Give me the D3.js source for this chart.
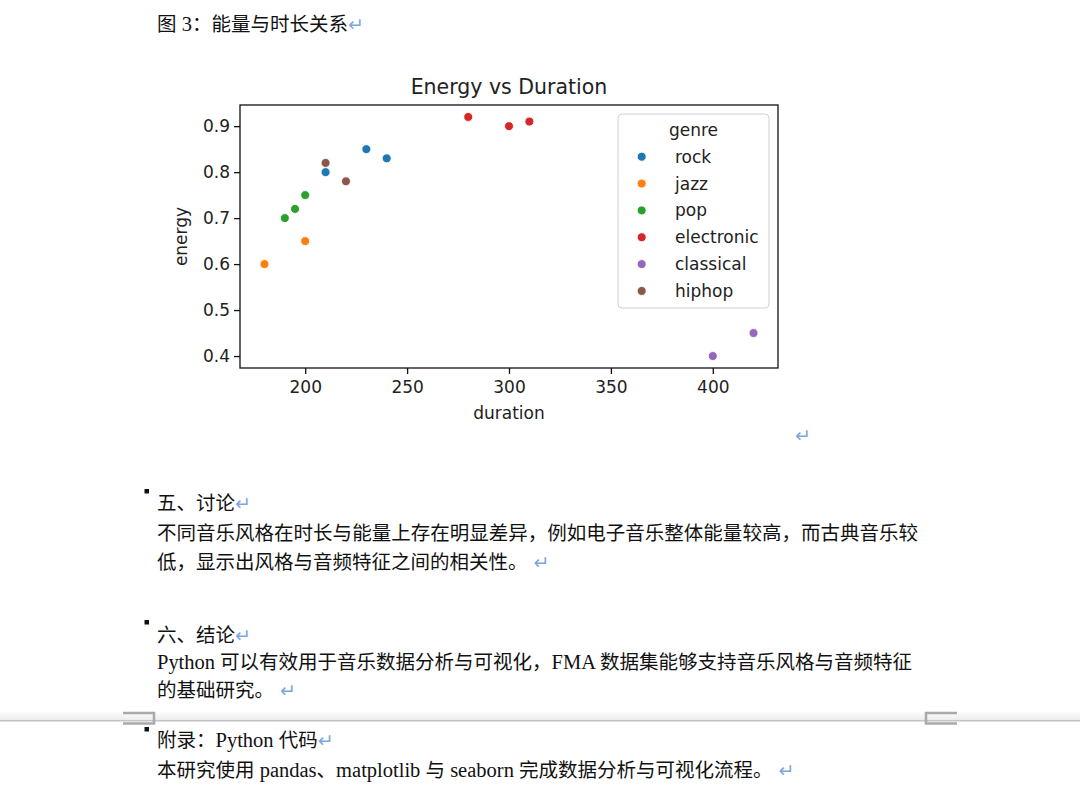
<!DOCTYPE html>
<html>
<head>
<meta charset="utf-8">
<script src="https://cdn.jsdelivr.net/npm/d3@7"></script>
<style>
  html, body { margin: 0; padding: 0; background: #fff; }
  svg { display: block; }
</style>
</head>
<body>
<svg id="page" width="1080" height="797"></svg>
<script>
// ---------- chart data ----------
const genres = ["rock", "jazz", "pop", "electronic", "classical", "hiphop"];
const pointGenre = ["rock", "rock", "rock", "jazz", "jazz", "pop", "pop", "pop",
                    "electronic", "electronic", "electronic", "classical", "classical", "hiphop", "hiphop"];
const duration   = [210, 230, 240, 180, 200, 190, 195, 200, 280, 300, 310, 400, 420, 210, 220];
const energy     = [0.80, 0.85, 0.83, 0.60, 0.65, 0.70, 0.72, 0.75, 0.92, 0.90, 0.91, 0.40, 0.45, 0.82, 0.78];
const xTicks = [200, 250, 300, 350, 400];
const yTicks = [0.4, 0.5, 0.6, 0.7, 0.8, 0.9];
const chartTitle = "Energy vs Duration";
const xLabel = "duration";
const yLabel = "energy";
const legendTitle = "genre";

// ---------- document text ----------
const docText = [
  "图 3：能量与时长关系",
  "五、讨论",
  "不同音乐风格在时长与能量上存在明显差异，例如电子音乐整体能量较高，而古典音乐较",
  "低，显示出风格与音频特征之间的相关性。",
  "六、结论",
  "Python 可以有效用于音乐数据分析与可视化，FMA 数据集能够支持音乐风格与音频特征",
  "的基础研究。",
  "附录：Python 代码",
  "本研究使用 pandas、matplotlib 与 seaborn 完成数据分析与可视化流程。"
];
const docReturn = [true, true, false, true, true, false, true, true, true];

// ---------- layout / style ----------
const palette = ["#1f77b4", "#ff7f0e", "#2ca02c", "#d62728", "#9467bd", "#8c564b"];
const docY = [31, 510, 540, 569, 642, 669, 697, 747, 777];
const docJustify = [null, null, 761, null, null, 755, null, null, null];
const bulletY = [489, 620, 727];
const CJK = "'Noto Sans CJK SC', sans-serif";
const SERIF = "'Liberation Serif', 'Times New Roman', serif";
const MPL = "'DejaVu Sans', sans-serif";
const RET_COLOR = "#7ba7dc";

const svg = d3.select("#page");
svg.append("rect").attr("width", 1080).attr("height", 797).attr("fill", "#fff");

// ---------- document lines ----------
function addLine(str, y, ret, justify) {
  const t = svg.append("text").attr("x", 157).attr("y", y)
    .attr("font-size", 19.5).attr("fill", "#111").attr("font-family", CJK);
  const parts = str.split(/([A-Za-z0-9 ]+)/).filter(s => s.length);
  parts.forEach(p => {
    const latin = /^[A-Za-z0-9 ]+$/.test(p);
    t.append("tspan").attr("font-family", latin ? SERIF : CJK)
      .attr("font-size", latin ? 20.5 : 19.5)
      .attr("xml:space", "preserve").text(p);
  });
  if (ret) {
    const gap = /。$/.test(str) ? 6 : 0;
    t.append("tspan").attr("dx", gap).attr("font-family", MPL).attr("font-size", 19)
      .attr("fill", RET_COLOR).text("↵");
  }
  if (justify) t.attr("textLength", justify).attr("lengthAdjust", "spacing");
}
docText.forEach((s, i) => addLine(s, docY[i], docReturn[i], docJustify[i]));

bulletY.forEach(by => svg.append("rect").attr("x", 144.5).attr("y", by)
  .attr("width", 4.5).attr("height", 4.5).attr("fill", "#111"));

// paragraph mark under chart
svg.append("text").attr("x", 795).attr("y", 442).attr("font-family", MPL)
  .attr("font-size", 19).attr("fill", RET_COLOR).text("↵");

// page break
const grad = svg.append("defs").append("linearGradient").attr("id", "shade")
  .attr("x1", 0).attr("y1", 0).attr("x2", 0).attr("y2", 1);
grad.append("stop").attr("offset", "0%").attr("stop-color", "#ffffff");
grad.append("stop").attr("offset", "100%").attr("stop-color", "#ececec");
svg.append("rect").attr("x", 0).attr("y", 711).attr("width", 1080).attr("height", 9)
  .attr("fill", "url(#shade)");
svg.append("line").attr("x1", 0).attr("x2", 1080).attr("y1", 720.8).attr("y2", 720.8)
  .attr("stroke", "#c4c4c4").attr("stroke-width", 1.5);
svg.append("path").attr("d", "M123,713H154V723.5H123").attr("fill", "none")
  .attr("stroke", "#a9a9a9").attr("stroke-width", 2.5);
svg.append("path").attr("d", "M957,713H926V723.5H957").attr("fill", "none")
  .attr("stroke", "#a9a9a9").attr("stroke-width", 2.5);

// ---------- chart ----------
const L = 240, R = 778, T = 105, B = 368;
const x = d3.scaleLinear().domain([168, 432]).range([L, R]);
const y = d3.scaleLinear().domain([0.374, 0.946]).range([B, T]);
const color = d3.scaleOrdinal().domain(genres).range(palette);
const TXT = "#222";

const g = svg.append("g");

// title
g.append("text").attr("x", (L + R) / 2).attr("y", 94).attr("text-anchor", "middle")
  .attr("font-family", MPL).attr("font-size", 20.5).attr("fill", TXT).text(chartTitle);

// axes
const xa = g.append("g").attr("transform", `translate(0,${B})`)
  .call(d3.axisBottom(x).tickValues(xTicks).tickSize(6).tickPadding(7).tickFormat(d3.format("d")));
const ya = g.append("g").attr("transform", `translate(${L},0)`)
  .call(d3.axisLeft(y).tickValues(yTicks).tickSize(6).tickPadding(4).tickFormat(d3.format(".1f")));
[xa, ya].forEach(a => {
  a.select(".domain").remove();
  a.selectAll("line").attr("stroke", "#111").attr("stroke-width", 1.3);
  a.selectAll("text").attr("font-family", MPL).attr("font-size", 17).attr("fill", TXT);
});

// points
g.append("g").selectAll("circle")
  .data(d3.range(duration.length))
  .join("circle")
  .attr("cx", i => x(duration[i]))
  .attr("cy", i => y(energy[i]))
  .attr("r", 4.5)
  .attr("fill", i => color(pointGenre[i]))
  .attr("stroke", "#fff").attr("stroke-width", 0.9);

// frame
g.append("rect").attr("x", L).attr("y", T).attr("width", R - L).attr("height", B - T)
  .attr("fill", "none").attr("stroke", "#111").attr("stroke-width", 1.3);

// axis labels
g.append("text").attr("x", (L + R) / 2).attr("y", 419).attr("text-anchor", "middle")
  .attr("font-family", MPL).attr("font-size", 17).attr("fill", TXT).text(xLabel);
g.append("text").attr("transform", `translate(186.5,${(T + B) / 2}) rotate(-90)`)
  .attr("text-anchor", "middle").attr("font-family", MPL).attr("font-size", 17)
  .attr("fill", TXT).text(yLabel);

// legend
const lg = g.append("g");
lg.append("rect").attr("x", 618).attr("y", 114).attr("width", 151).attr("height", 194)
  .attr("rx", 4).attr("fill", "#fff").attr("fill-opacity", 0.8)
  .attr("stroke", "#d0d0d0").attr("stroke-width", 1);
lg.append("text").attr("x", 693.5).attr("y", 135.5).attr("text-anchor", "middle")
  .attr("font-family", MPL).attr("font-size", 17).attr("fill", TXT).text(legendTitle);
const item = lg.selectAll("g.item").data(genres).join("g").attr("class", "item")
  .attr("transform", (d, i) => `translate(0,${156.7 + i * 26.85})`);
item.append("circle").attr("cx", 641.7).attr("cy", 0).attr("r", 4.5)
  .attr("fill", d => color(d)).attr("stroke", "#fff").attr("stroke-width", 0.9);
item.append("text").attr("x", 675).attr("y", 6).attr("font-family", MPL)
  .attr("font-size", 17).attr("fill", TXT).text(d => d);
</script>
</body>
</html>
